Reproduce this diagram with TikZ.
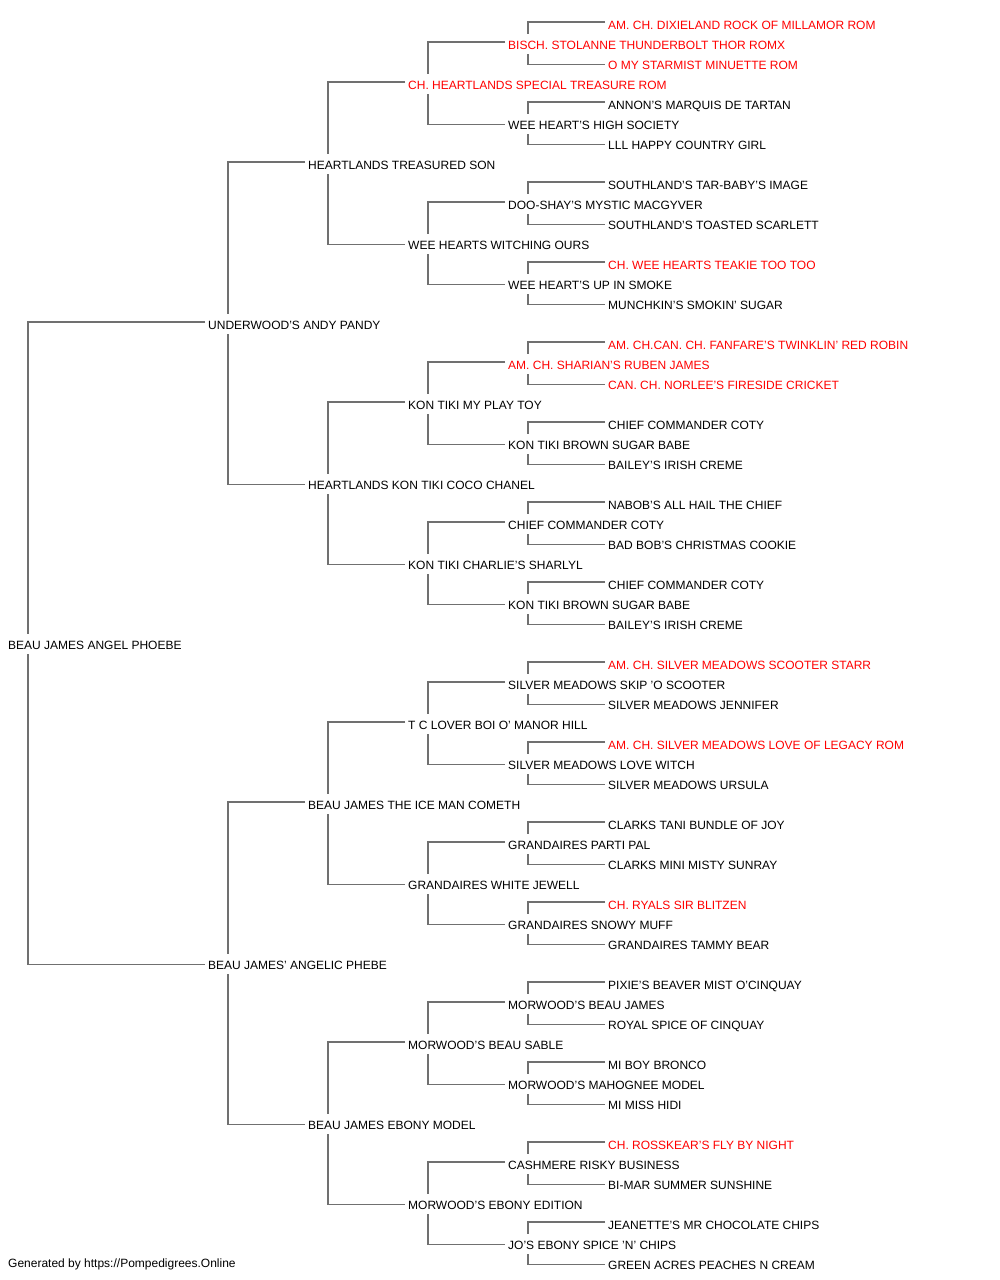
\documentclass[tikz,border=0pt]{standalone}
\usepackage{fontspec}
\setmainfont{Liberation Sans}
\usetikzlibrary{backgrounds}
\definecolor{linegray}{RGB}{112,112,112}
\definecolor{champ}{RGB}{255,0,0}
\newcommand\pn[4]{\node[pnode,#3] (n#1) at ({#2-1},{23.5+20*#1}) {#4};}
\begin{document}
\begin{tikzpicture}[x=1pt,y=-1pt,
  pnode/.style={anchor=west, fill=white, inner xsep=1pt, inner ysep=0pt,
    text height=11.5pt, text depth=0.5pt, minimum height=20pt,
    font=\fontsize{12}{14}\selectfont},
  plain/.style={text=black},
  ch/.style={text=champ},
  edge/.style={draw=linegray, line width=1.3pt}]
\useasboundingbox (0,0) rectangle (1000,1280);
\pn{0}{608}{ch}{AM. CH. DIXIELAND ROCK OF MILLAMOR ROM}
\pn{1}{508}{ch}{BISCH. STOLANNE THUNDERBOLT THOR ROMX}
\pn{2}{608}{ch}{O MY STARMIST MINUETTE ROM}
\pn{3}{408}{ch}{CH. HEARTLANDS SPECIAL TREASURE ROM}
\pn{4}{608}{plain}{ANNON'S MARQUIS DE TARTAN}
\pn{5}{508}{plain}{WEE HEART'S HIGH SOCIETY}
\pn{6}{608}{plain}{LLL HAPPY COUNTRY GIRL}
\pn{7}{308}{plain}{HEARTLANDS TREASURED SON}
\pn{8}{608}{plain}{SOUTHLAND'S TAR-BABY'S IMAGE}
\pn{9}{508}{plain}{DOO-SHAY'S MYSTIC MACGYVER}
\pn{10}{608}{plain}{SOUTHLAND'S TOASTED SCARLETT}
\pn{11}{408}{plain}{WEE HEARTS WITCHING OURS}
\pn{12}{608}{ch}{CH. WEE HEARTS TEAKIE TOO TOO}
\pn{13}{508}{plain}{WEE HEART'S UP IN SMOKE}
\pn{14}{608}{plain}{MUNCHKIN'S SMOKIN' SUGAR}
\pn{15}{208}{plain}{UNDERWOOD'S ANDY PANDY}
\pn{16}{608}{ch}{AM. CH.CAN. CH. FANFARE'S TWINKLIN' RED ROBIN}
\pn{17}{508}{ch}{AM. CH. SHARIAN'S RUBEN JAMES}
\pn{18}{608}{ch}{CAN. CH. NORLEE'S FIRESIDE CRICKET}
\pn{19}{408}{plain}{KON TIKI MY PLAY TOY}
\pn{20}{608}{plain}{CHIEF COMMANDER COTY}
\pn{21}{508}{plain}{KON TIKI BROWN SUGAR BABE}
\pn{22}{608}{plain}{BAILEY'S IRISH CREME}
\pn{23}{308}{plain}{HEARTLANDS KON TIKI COCO CHANEL}
\pn{24}{608}{plain}{NABOB'S ALL HAIL THE CHIEF}
\pn{25}{508}{plain}{CHIEF COMMANDER COTY}
\pn{26}{608}{plain}{BAD BOB'S CHRISTMAS COOKIE}
\pn{27}{408}{plain}{KON TIKI CHARLIE'S SHARLYL}
\pn{28}{608}{plain}{CHIEF COMMANDER COTY}
\pn{29}{508}{plain}{KON TIKI BROWN SUGAR BABE}
\pn{30}{608}{plain}{BAILEY'S IRISH CREME}
\pn{31}{8}{plain}{BEAU JAMES ANGEL PHOEBE}
\pn{32}{608}{ch}{AM. CH. SILVER MEADOWS SCOOTER STARR}
\pn{33}{508}{plain}{SILVER MEADOWS SKIP 'O SCOOTER}
\pn{34}{608}{plain}{SILVER MEADOWS JENNIFER}
\pn{35}{408}{plain}{T C LOVER BOI O' MANOR HILL}
\pn{36}{608}{ch}{AM. CH. SILVER MEADOWS LOVE OF LEGACY ROM}
\pn{37}{508}{plain}{SILVER MEADOWS LOVE WITCH}
\pn{38}{608}{plain}{SILVER MEADOWS URSULA}
\pn{39}{308}{plain}{BEAU JAMES THE ICE MAN COMETH}
\pn{40}{608}{plain}{CLARKS TANI BUNDLE OF JOY}
\pn{41}{508}{plain}{GRANDAIRES PARTI PAL}
\pn{42}{608}{plain}{CLARKS MINI MISTY SUNRAY}
\pn{43}{408}{plain}{GRANDAIRES WHITE JEWELL}
\pn{44}{608}{ch}{CH. RYALS SIR BLITZEN}
\pn{45}{508}{plain}{GRANDAIRES SNOWY MUFF}
\pn{46}{608}{plain}{GRANDAIRES TAMMY BEAR}
\pn{47}{208}{plain}{BEAU JAMES' ANGELIC PHEBE}
\pn{48}{608}{plain}{PIXIE'S BEAVER MIST O'CINQUAY}
\pn{49}{508}{plain}{MORWOOD'S BEAU JAMES}
\pn{50}{608}{plain}{ROYAL SPICE OF CINQUAY}
\pn{51}{408}{plain}{MORWOOD'S BEAU SABLE}
\pn{52}{608}{plain}{MI BOY BRONCO}
\pn{53}{508}{plain}{MORWOOD'S MAHOGNEE MODEL}
\pn{54}{608}{plain}{MI MISS HIDI}
\pn{55}{308}{plain}{BEAU JAMES EBONY MODEL}
\pn{56}{608}{ch}{CH. ROSSKEAR'S FLY BY NIGHT}
\pn{57}{508}{plain}{CASHMERE RISKY BUSINESS}
\pn{58}{608}{plain}{BI-MAR SUMMER SUNSHINE}
\pn{59}{408}{plain}{MORWOOD'S EBONY EDITION}
\pn{60}{608}{plain}{JEANETTE'S MR CHOCOLATE CHIPS}
\pn{61}{508}{plain}{JO'S EBONY SPICE 'N' CHIPS}
\pn{62}{608}{plain}{GREEN ACRES PEACHES N CREAM}
\node[anchor=west, inner sep=0pt, font=\fontsize{12}{14}\selectfont] (footer) at (8,1264) {Generated by https://Pompedigrees.Online};
\begin{pgfonlayer}{background}
\fill[white] (0,0) rectangle (1000,1280);
\foreach \r/\d in {1/1,5/1,9/1,13/1,17/1,21/1,25/1,29/1,33/1,37/1,41/1,45/1,49/1,53/1,57/1,61/1,
  3/2,11/2,19/2,27/2,35/2,43/2,51/2,59/2, 7/4,23/4,39/4,55/4, 15/8,47/8, 31/16}{
  \pgfmathtruncatemacro\s{\r-\d}
  \pgfmathtruncatemacro\m{\r+\d}
  \draw[edge] ([shift={(-2pt,1.5pt)}]n\s.west) -| ([xshift=21pt]n\r.west) |- ([shift={(-2pt,-0.8pt)}]n\m.west);
}
\end{pgfonlayer}
\end{tikzpicture}
\end{document}
